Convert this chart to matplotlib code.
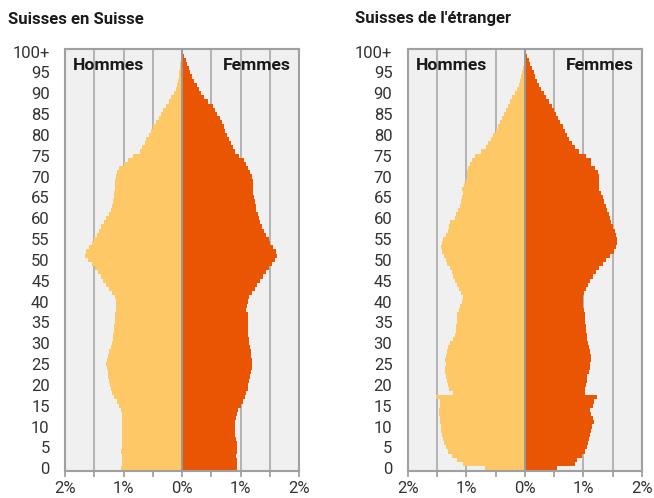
import numpy as np
import matplotlib
matplotlib.use("Agg")
import matplotlib.pyplot as plt

plt.rcParams['font.family'] = ['Roboto', 'DejaVu Sans']

## Ages 0..100 (100 = "100+"), shares in % of each population
ages = list(range(0, 101))
ytick_ages = list(range(0, 101, 5))
ytick_labels = [str(a) for a in range(0, 100, 5)] + ["100+"]
xtick_labels = ["2%", "1%", "0%", "1%", "2%"]

titles = ["Suisses en Suisse", "Suisses de l'étranger"]

## Suisses en Suisse
men_ch = [1.04, 1.03, 1.03, 1.03, 1.04, 1.03, 1.03, 1.03, 1.03, 1.03,
          1.02, 1.02, 1.02, 1.03, 1.05, 1.08, 1.12, 1.16, 1.19, 1.22,
          1.23, 1.24, 1.26, 1.27, 1.29, 1.30, 1.28, 1.26, 1.24, 1.21,
          1.19, 1.18, 1.18, 1.17, 1.16, 1.15, 1.15, 1.14, 1.13, 1.13,
          1.13, 1.15, 1.20, 1.25, 1.30, 1.35, 1.39, 1.44, 1.48, 1.54,
          1.60, 1.65, 1.64, 1.59, 1.54, 1.50, 1.46, 1.42, 1.38, 1.34,
          1.30, 1.25, 1.22, 1.19, 1.18, 1.17, 1.16, 1.15, 1.15, 1.14,
          1.13, 1.12, 1.08, 1.00, 0.93, 0.84, 0.72, 0.68, 0.64, 0.61,
          0.57, 0.53, 0.50, 0.44, 0.40, 0.36, 0.33, 0.27, 0.23, 0.19,
          0.14, 0.10, 0.09, 0.075, 0.06, 0.045, 0.035, 0.03, 0.02, 0.01,
          0.005]
women_ch = [0.93, 0.93, 0.93, 0.92, 0.93, 0.94, 0.93, 0.92, 0.91, 0.91,
            0.91, 0.91, 0.92, 0.93, 0.96, 1.00, 1.04, 1.07, 1.10, 1.12,
            1.13, 1.15, 1.16, 1.18, 1.19, 1.20, 1.19, 1.18, 1.17, 1.16,
            1.15, 1.14, 1.13, 1.12, 1.12, 1.12, 1.12, 1.12, 1.10, 1.11,
            1.13, 1.15, 1.19, 1.24, 1.28, 1.33, 1.38, 1.44, 1.48, 1.53,
            1.59, 1.62, 1.60, 1.55, 1.51, 1.48, 1.44, 1.40, 1.36, 1.33,
            1.31, 1.29, 1.27, 1.26, 1.24, 1.23, 1.22, 1.22, 1.22, 1.21,
            1.19, 1.16, 1.12, 1.10, 1.06, 0.97, 0.91, 0.87, 0.83, 0.80,
            0.77, 0.74, 0.71, 0.68, 0.64, 0.60, 0.56, 0.52, 0.45, 0.38,
            0.33, 0.29, 0.25, 0.21, 0.17, 0.14, 0.11, 0.08, 0.06, 0.04,
            0.02]

## Suisses de l'etranger
men_ab = [0.68, 1.06, 1.16, 1.25, 1.31, 1.35, 1.38, 1.40, 1.42, 1.43,
          1.43, 1.45, 1.44, 1.46, 1.47, 1.44, 1.45, 1.51, 1.23, 1.30,
          1.32, 1.33, 1.35, 1.36, 1.36, 1.35, 1.37, 1.35, 1.33, 1.32,
          1.27, 1.23, 1.20, 1.18, 1.17, 1.16, 1.16, 1.15, 1.13, 1.11,
          1.08, 1.06, 1.09, 1.12, 1.16, 1.20, 1.22, 1.25, 1.28, 1.33,
          1.34, 1.38, 1.42, 1.43, 1.41, 1.39, 1.35, 1.32, 1.29, 1.27,
          1.20, 1.17, 1.14, 1.11, 1.09, 1.07, 1.05, 1.08, 1.03, 1.00,
          0.99, 0.98, 0.97, 0.93, 0.90, 0.85, 0.75, 0.66, 0.62, 0.57,
          0.54, 0.49, 0.45, 0.42, 0.39, 0.36, 0.32, 0.28, 0.25, 0.21,
          0.16, 0.13, 0.10, 0.08, 0.065, 0.045, 0.035, 0.02, 0.015, 0.01,
          0.005]
women_ab = [0.55, 0.85, 0.90, 0.97, 1.03, 1.06, 1.08, 1.10, 1.12, 1.13,
            1.15, 1.18, 1.16, 1.14, 1.12, 1.16, 1.19, 1.23, 1.03, 1.03,
            1.05, 1.06, 1.07, 1.09, 1.11, 1.12, 1.13, 1.14, 1.12, 1.10,
            1.08, 1.07, 1.06, 1.05, 1.05, 1.03, 1.03, 1.03, 1.02, 1.00,
            0.99, 1.00, 1.01, 1.04, 1.08, 1.12, 1.17, 1.22, 1.27, 1.33,
            1.38, 1.46, 1.52, 1.56, 1.58, 1.58, 1.56, 1.54, 1.51, 1.48,
            1.46, 1.44, 1.40, 1.38, 1.36, 1.33, 1.30, 1.27, 1.27, 1.26,
            1.26, 1.25, 1.20, 1.14, 1.14, 1.04, 0.92, 0.86, 0.81, 0.76,
            0.72, 0.68, 0.65, 0.61, 0.57, 0.54, 0.50, 0.46, 0.41, 0.36,
            0.32, 0.28, 0.25, 0.21, 0.18, 0.15, 0.12, 0.09, 0.065, 0.04,
            0.02]

men_color = '#FDC865'
women_color = '#EA5504'
grid_color = '#a8a8a8'
bg_color = '#f0f0f0'

fig = plt.figure(figsize=(6.54, 4.98), dpi=100)

panels = [
    (0.0994, titles[0], men_ch, women_ch, 8),
    (0.6234, titles[1], men_ab, women_ab, 355),
]

for left, title, men, women, title_x in panels:
    ax = fig.add_axes([left, 0.0548, 0.358, 0.8468])
    ax.set_facecolor(bg_color)

    ## gridlines every 0.5%
    for g in [-1.5, -1.0, -0.5, 0.5, 1.0, 1.5]:
        ax.axvline(g, color=grid_color, lw=1.2, zorder=1)

    ax.barh(ages, -np.array(men), height=1.0, color=men_color, lw=0, zorder=2)
    ax.barh(ages, women, height=1.0, color=women_color, lw=0, zorder=2)
    ax.axvline(0, color='#999999', lw=1.4, zorder=3)

    ax.set_xlim(-2, 2)
    ax.set_ylim(-0.6, 100.6)

    ax.set_yticks(ytick_ages)
    ax.set_yticklabels(ytick_labels)
    ax.set_xticks([-2, -1, 0, 1, 2])
    ax.set_xticklabels(xtick_labels)
    ax.set_xticks([-1.5, -0.5, 0.5, 1.5], minor=True)
    ax.tick_params(axis='y', length=0, pad=11, labelsize=12, labelcolor='#333333')
    ax.tick_params(axis='x', which='both', length=4, width=1.2, color='#999999',
                   pad=3.5, labelsize=12, labelcolor='#333333')

    for s in ax.spines.values():
        s.set_color('#a0a0a0')
        s.set_linewidth(1.5)

    ax.text(0.035, 0.96, "Hommes", transform=ax.transAxes, ha='left', va='center',
            fontsize=12.6, fontweight='bold', color='#1a1a1a', zorder=4)
    ax.text(0.965, 0.96, "Femmes", transform=ax.transAxes, ha='right', va='center',
            fontsize=12.6, fontweight='bold', color='#1a1a1a', zorder=4)

    fig.text(title_x / 654, 1 - 19 / 498, title, ha='left', va='center',
             fontsize=12, fontweight='bold', color='#1a1a1a')

fig.savefig('out.png', dpi=100)
